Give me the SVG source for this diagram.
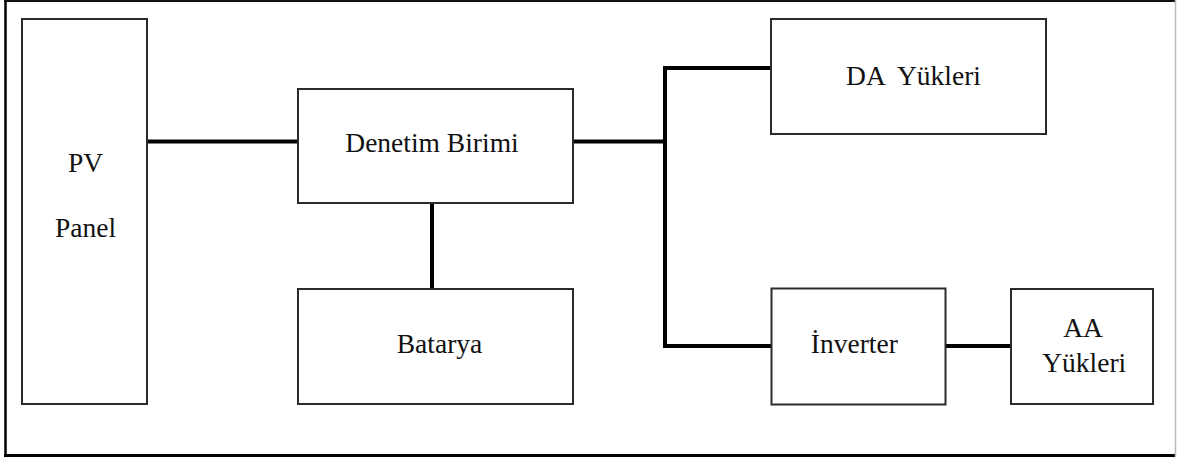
<svg xmlns="http://www.w3.org/2000/svg" width="1178" height="459" viewBox="0 0 1178 459">
<style>
.box{fill:#fff;stroke:#2b2b2b;stroke-width:2}
.lbl{font-family:"Liberation Serif","Times New Roman",serif;font-size:27.5px;fill:#111;text-anchor:middle;white-space:pre}
.wire{fill:none;stroke:#000;stroke-width:4;stroke-linejoin:miter}
</style>
<rect x="0" y="0" width="1178" height="459" fill="#fff"/>
<g id="frame">
<line x1="5.5" y1="1" x2="5.5" y2="457" stroke="#000" stroke-width="2.5"/>
<line x1="4" y1="1" x2="1176" y2="1" stroke="#111" stroke-width="2"/>
<line x1="4" y1="455.5" x2="1176" y2="455.5" stroke="#000" stroke-width="3"/>
<line x1="1175.5" y1="0" x2="1175.5" y2="457" stroke="#bbb" stroke-width="1.5"/>
</g>
<g id="connectors">
<line class="wire" x1="147" y1="141.5" x2="298" y2="141.5"/>
<line class="wire" x1="432" y1="203" x2="432" y2="289"/>
<line class="wire" x1="573" y1="141.5" x2="665" y2="141.5"/>
<polyline class="wire" points="771,68 665,68 665,346 771,346"/>
<line class="wire" x1="945" y1="346" x2="1011" y2="346"/>
</g>
<g id="pv-panel">
<rect class="box" x="22" y="19" width="125" height="385"/>
<text class="lbl" x="85.5" y="171.7">PV</text>
<text class="lbl" x="85.5" y="236.7">Panel</text>
</g>
<g id="denetim-birimi">
<rect class="box" x="298" y="89" width="275" height="114"/>
<text class="lbl" x="432" y="151.7">Denetim Birimi</text>
</g>
<g id="batarya">
<rect class="box" x="298" y="289" width="275" height="115"/>
<text class="lbl" x="439.5" y="353.3">Batarya</text>
</g>
<g id="da-yukleri">
<rect class="box" x="771" y="19" width="275" height="115"/>
<text class="lbl" x="913.5" y="85" xml:space="preserve">DA  Yükleri</text>
</g>
<g id="inverter">
<rect class="box" x="771.5" y="288.5" width="174" height="116"/>
<text class="lbl" x="854.3" y="352.7">İnverter</text>
</g>
<g id="aa-yukleri">
<rect class="box" x="1011" y="289" width="142" height="115"/>
<text class="lbl" x="1083" y="336.7">AA</text>
<text class="lbl" x="1084.2" y="372.3">Yükleri</text>
</g>
</svg>
